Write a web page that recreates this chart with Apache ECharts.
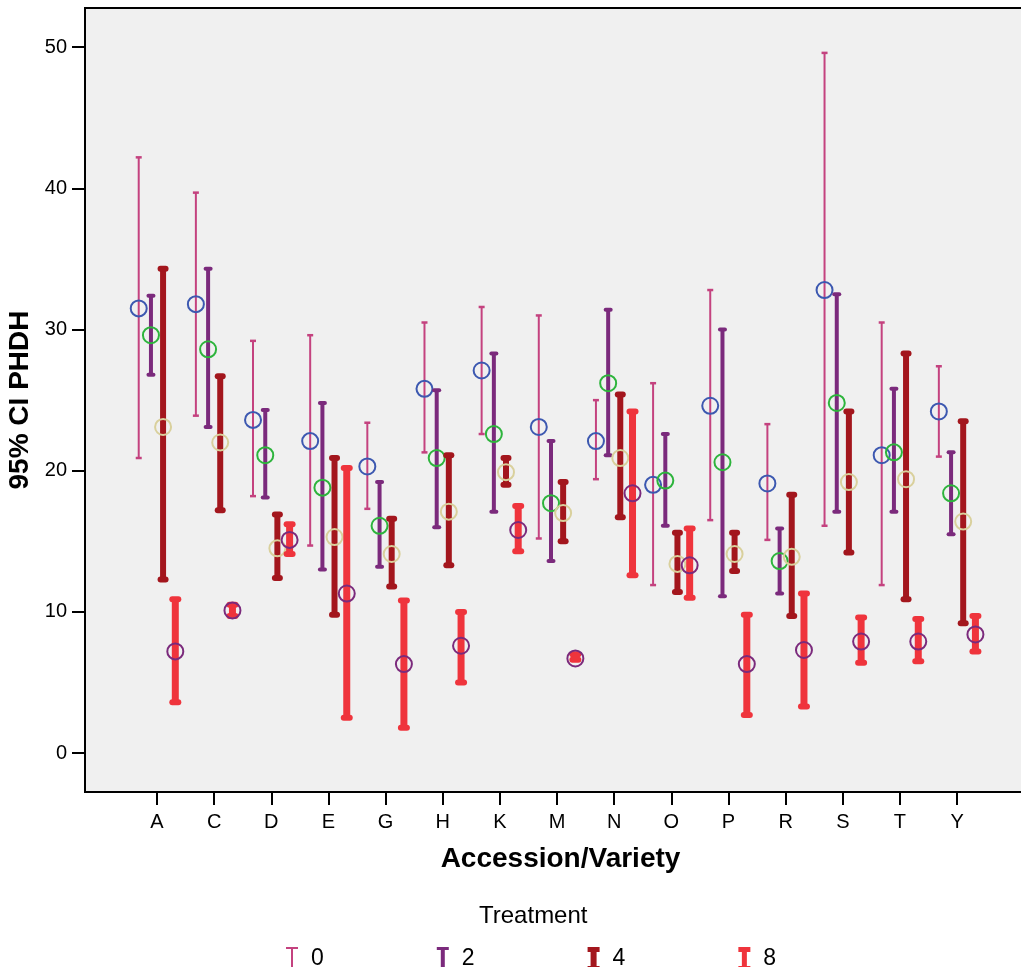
<!DOCTYPE html>
<html>
<head>
<meta charset="utf-8">
<script src="https://cdn.jsdelivr.net/npm/echarts@6/dist/echarts.min.js"></script>
<style>
  html, body { margin: 0; padding: 0; background: #fff; }
  #chart { width: 1021px; height: 967px; }
</style>
</head>
<body>
<div id="chart"></div>
<script>
// accessions on the x axis
const cats = ['A', 'C', 'D', 'E', 'G', 'H', 'K', 'M', 'N', 'O', 'P', 'R', 'S', 'T', 'Y']
const yTicks = [0, 10, 20, 30, 40, 50]

// treatment 0
const lo0 = [20.9, 23.9, 18.2, 14.7, 17.3, 21.3, 22.6, 15.2, 19.4, 11.9, 16.5, 15.1, 16.1, 11.9, 21.0]
const hi0 = [42.2, 39.7, 29.2, 29.6, 23.4, 30.5, 31.6, 31.0, 25.0, 26.2, 32.8, 23.3, 49.6, 30.5, 27.4]
const mean0 = [31.5, 31.8, 23.6, 22.1, 20.3, 25.8, 27.1, 23.1, 22.1, 19.0, 24.6, 19.1, 32.8, 21.1, 24.2]
// treatment 2
const lo2 = [26.8, 23.1, 18.1, 13.0, 13.2, 16.0, 17.1, 13.6, 21.1, 16.1, 11.1, 11.3, 17.1, 17.1, 15.5]
const hi2 = [32.4, 34.3, 24.3, 24.8, 19.2, 25.7, 28.3, 22.1, 31.4, 22.6, 30.0, 15.9, 32.5, 25.8, 21.3]
const mean2 = [29.6, 28.6, 21.1, 18.8, 16.1, 20.9, 22.6, 17.7, 26.2, 19.3, 20.6, 13.6, 24.8, 21.3, 18.4]
// treatment 4
const lo4 = [12.3, 17.2, 12.4, 9.8, 11.8, 13.3, 19.0, 15.0, 16.7, 11.4, 12.9, 9.7, 14.2, 10.9, 9.2]
const hi4 = [34.3, 26.7, 16.9, 20.9, 16.6, 21.1, 20.9, 19.2, 25.4, 15.6, 15.6, 18.3, 24.2, 28.3, 23.5]
const mean4 = [23.1, 22.0, 14.5, 15.3, 14.1, 17.1, 19.9, 17.0, 20.9, 13.4, 14.1, 13.9, 19.2, 19.4, 16.4]
// treatment 8
const lo8 = [3.6, 9.7, 14.1, 2.5, 1.8, 5.0, 14.3, 6.6, 12.6, 11.0, 2.7, 3.3, 6.4, 6.5, 7.2]
const hi8 = [10.9, 10.5, 16.2, 20.2, 10.8, 10.0, 17.5, 7.0, 24.2, 15.9, 9.8, 11.3, 9.6, 9.5, 9.7]
const mean8 = [7.2, 10.1, 15.1, 11.3, 6.3, 7.6, 15.8, 6.7, 18.4, 13.3, 6.3, 7.3, 7.9, 7.9, 8.4]

const FONT = 'Liberation Sans, Arial, sans-serif'

function rows(lo, hi, mean) {
  return cats.map((c, i) => [i, lo[i], hi[i], mean[i]])
}

// 误差线 + 均值圆圈
function errorBar(name, lo, hi, mean, opt) {
  return {
    name: name,
    type: 'custom',
    itemStyle: { color: opt.color },
    encode: { x: 0, y: [1, 2] },
    data: rows(lo, hi, mean),
    renderItem: function(params, api) {
      const x = api.value(0) + opt.off
      const a = api.coord([x, api.value(1)])
      const b = api.coord([x, api.value(2)])
      const m = api.coord([x, api.value(3)])
      const cap = opt.cap
      return {
        type: 'group',
        children: [
          { type: 'line', shape: { x1: a[0], y1: a[1], x2: b[0], y2: b[1] },
            style: { stroke: opt.color, lineWidth: opt.lw, lineCap: 'butt' } },
          { type: 'line', shape: { x1: b[0] - cap, y1: b[1], x2: b[0] + cap, y2: b[1] },
            style: { stroke: opt.color, lineWidth: opt.capW, lineCap: opt.round ? 'round' : 'butt' } },
          { type: 'line', shape: { x1: a[0] - cap, y1: a[1], x2: a[0] + cap, y2: a[1] },
            style: { stroke: opt.color, lineWidth: opt.capW, lineCap: opt.round ? 'round' : 'butt' } },
          { type: 'circle', shape: { cx: m[0], cy: m[1], r: 8 },
            style: { fill: 'none', stroke: opt.circle, lineWidth: 2 } }
        ]
      }
    }
  }
}

const chart = echarts.init(document.getElementById('chart'))
const option = {
  animation: false,
  backgroundColor: '#fff',
  title: {
    text: 'Treatment',
    left: 474,
    top: 899,
    textStyle: { fontFamily: FONT, fontSize: 24, fontWeight: 'normal', color: '#000' }
  },
  legend: {
    left: 281,
    top: 942,
    itemWidth: 12,
    itemHeight: 24,
    itemGap: 113,
    textStyle: { fontFamily: FONT, fontSize: 23, color: '#000', padding: [0, 0, 0, 8] },
    data: [
      { name: '0', icon: 'path://M0,0H12V2H7V22H12V24H0V22H5V2H0Z' },
      { name: '2', icon: 'path://M0,0H12V3H8V21H12V24H0V21H4V3H0Z' },
      { name: '4', icon: 'path://M0,0H12V5H9V19H12V24H0V19H3V5H0Z' },
      { name: '8', icon: 'path://M0,0H12V5H8.5V19H12V24H0V19H3.5V5H0Z' }
    ]
  },
  grid: {
    left: 85,
    right: -3,
    top: 8,
    bottom: 175,
    outerBoundsMode: 'none',
    containLabel: false,
    show: true,
    backgroundColor: '#f0f0f0',
    borderColor: '#000',
    borderWidth: 2
  },
  xAxis: {
    type: 'value',
    min: -1.26,
    max: 15.17,
    name: 'Accession/Variety',
    nameLocation: 'middle',
    nameGap: 53,
    nameTextStyle: { fontFamily: FONT, fontSize: 28, fontWeight: 'bold', color: '#000', padding: [0, 0, 0, 12] },
    axisLine: { onZero: false, lineStyle: { color: '#000', width: 2 } },
    axisTick: { length: 13, lineStyle: { color: '#000', width: 2 }, customValues: cats.map((c, i) => i) },
    axisLabel: {
      customValues: cats.map((c, i) => i),
      formatter: v => cats[v],
      margin: 20,
      fontFamily: FONT,
      fontSize: 20,
      color: '#000'
    },
    splitLine: { show: false }
  },
  yAxis: {
    type: 'value',
    min: -2.76,
    max: 52.78,
    name: '95% CI PHDH',
    nameLocation: 'middle',
    nameGap: 44,
    nameTextStyle: { fontFamily: FONT, fontSize: 28, fontWeight: 'bold', color: '#000' },
    axisLine: { show: true, onZero: false, lineStyle: { color: '#000', width: 2 } },
    axisTick: { show: true, length: 13, lineStyle: { color: '#000', width: 2 }, customValues: yTicks },
    axisLabel: {
      customValues: yTicks,
      margin: 18,
      fontFamily: FONT,
      fontSize: 20,
      color: '#000'
    },
    splitLine: { show: false }
  },
  series: [
    errorBar('0', lo0, hi0, mean0, { color: '#c4427f', circle: '#3c58b0', off: -0.32, lw: 2, capW: 2.5, cap: 3, round: false }),
    errorBar('2', lo2, hi2, mean2, { color: '#7b2a7c', circle: '#2db43c', off: -0.106, lw: 4, capW: 4, cap: 2.5, round: true }),
    errorBar('4', lo4, hi4, mean4, { color: '#a3161d', circle: '#d9d09c', off: 0.106, lw: 6, capW: 6, cap: 2.5, round: true }),
    errorBar('8', lo8, hi8, mean8, { color: '#ef343c', circle: '#7b2a7c', off: 0.32, lw: 7, capW: 6, cap: 3, round: true })
  ]
}
chart.setOption(option)
</script>
</body>
</html>
